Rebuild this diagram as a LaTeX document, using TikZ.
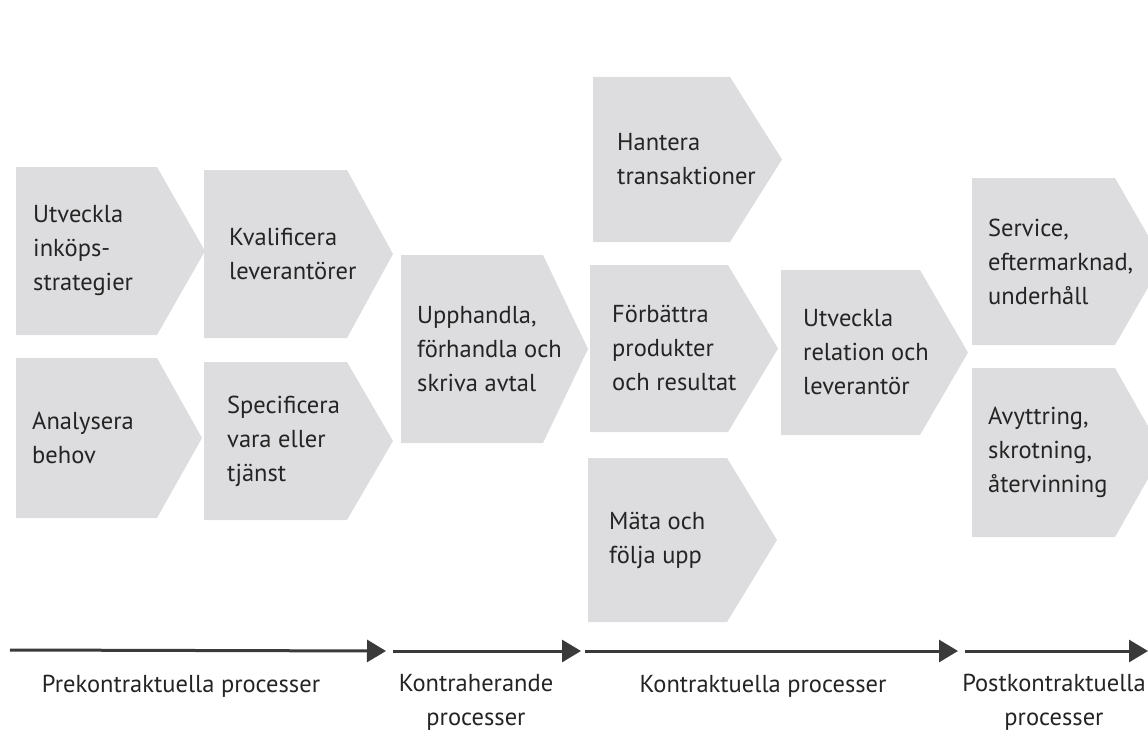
\documentclass[tikz,border=0pt]{standalone}
\usepackage{fontspec}
\setmainfont{PT Sans}
\usetikzlibrary{arrows.meta}

\definecolor{boxgray}{RGB}{221,221,223}
\definecolor{inkgray}{RGB}{36,36,36}
\definecolor{arrowgray}{RGB}{58,58,58}

\tikzset{
  procfill/.style={fill=boxgray},
  proctext/.style={anchor=west, align=left, inner sep=0pt, text=inkgray,
    font=\fontsize{24.5}{34}\selectfont},
  phasearrow/.style={draw=arrowgray, line width=3pt,
    -{Triangle[length=19pt,width=22pt]}},
  phasetext/.style={anchor=center, align=center, inner sep=0pt, text=inkgray,
    font=\fontsize{24.5}{34}\selectfont},
}

% #1 node name, #2 left, #3 top, #4 bottom, #5 start of point, #6 tip, #7 text x, #8 text
\newcommand\procbox[8]{%
  \path[procfill] (#2,#3) -- (#5,#3) -- (#6,{(#3+#4)/2}) -- (#5,#4) -- (#2,#4) -- cycle;
  \node[proctext] (#1) at (#7,{(#3+#4)/2}) {#8};
}

\begin{document}
\begin{tikzpicture}[x=1pt,y=-1pt]
  \useasboundingbox (0,0) rectangle (1148,733);
  \clip (0,0) rectangle (1148,733);

  % pre-contract column
  \procbox{strat}{16}{167}{335}{157}{205}{33}{Utveckla\\inköps-\\strategier}
  \procbox{behov}{16}{358}{518}{157}{202}{32}{Analysera\\behov}
  \procbox{kval}{204}{170}{338}{347}{393}{229}{Kvalificera\\leverantörer}
  \procbox{spec}{204}{362}{520}{347}{393}{227}{Specificera\\vara eller\\tjänst}

  % contracting
  \procbox{upph}{401}{255}{443}{543}{588}{417}{Upphandla,\\förhandla och\\skriva avtal}

  % contract phase
  \procbox{trans}{593}{77}{242}{730}{782}{617}{Hantera\\transaktioner}
  \procbox{forb}{590}{265}{432}{728}{778}{612}{Förbättra\\produkter\\och resultat}
  \procbox{mata}{588}{458}{622}{727}{777}{609}{Mäta och\\följa upp}
  \procbox{rel}{781}{270}{435}{920}{968}{803}{Utveckla\\relation och\\leverantör}

  % post-contract
  \procbox{serv}{972}{178}{345}{1115}{1163}{988}{Service,\\eftermarknad,\\underhåll}
  \procbox{avyt}{972}{368}{537}{1115}{1163}{988}{Avyttring,\\skrotning,\\återvinning}

  % phase timeline
  \coordinate (p0) at (10,650);
  \coordinate (p1) at (386,651);
  \coordinate (q0) at (393,651);
  \coordinate (q1) at (581,651);
  \coordinate (r0) at (585,651);
  \coordinate (r1) at (958,651);
  \coordinate (s0) at (965,651);
  \coordinate (s1) at (1148,651);
  \draw[phasearrow] (p0) -- (p1);
  \draw[phasearrow] (q0) -- (q1);
  \draw[phasearrow] (r0) -- (r1);
  \draw[phasearrow] (s0) -- (s1);

  \node[phasetext] (pre) at (181,686) {Prekontraktuella processer};
  \node[phasetext] (kontr) at (476,702) {Kontraherande\\processer};
  \node[phasetext] (kontrakt) at (763,686) {Kontraktuella processer};
  \node[phasetext] (post) at (1054,702) {Postkontraktuella\\processer};
\end{tikzpicture}
\end{document}
